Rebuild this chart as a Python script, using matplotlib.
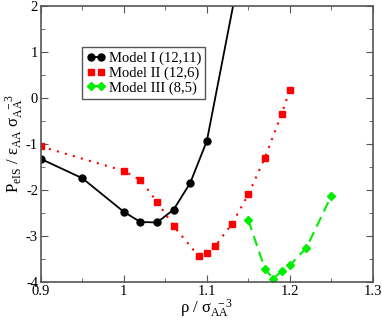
import matplotlib
matplotlib.use('Agg')
from matplotlib import pyplot as plt
from matplotlib.ticker import MultipleLocator

plt.rcParams['font.family'] = ['Liberation Serif', 'DejaVu Sans']
plt.rcParams['mathtext.fontset'] = 'custom'
plt.rcParams['mathtext.rm'] = 'Liberation Serif'
plt.rcParams['mathtext.it'] = 'Liberation Serif:italic'

# Model I (12,11)
x1 = [0.90, 0.95, 1.00, 1.02, 1.04, 1.06, 1.08, 1.10, 1.15]
y1 = [-1.33, -1.75, -2.48, -2.70, -2.71, -2.43, -1.85, -0.94, 3.7]
# Model II (12,6)
x2 = [0.90, 1.00, 1.02, 1.04, 1.06, 1.09, 1.10, 1.11, 1.13, 1.15, 1.17, 1.19, 1.20]
y2 = [-1.06, -1.59, -1.79, -2.26, -2.79, -3.44, -3.38, -3.22, -2.75, -2.10, -1.30, -0.36, 0.17]
# Model III (8,5)
x3 = [1.15, 1.17, 1.18, 1.19, 1.20, 1.22, 1.25]
y3 = [-2.66, -3.72, -3.93, -3.77, -3.64, -3.26, -2.13]

fig = plt.figure(figsize=(3.82, 3.27), dpi=100)
ax = fig.add_axes([0.107, 0.138, 0.869, 0.845])

ax.plot(x1, y1, color='black', lw=1.3, marker='o', ms=5, label='Model I (12,11)')
ax.plot(x2, y2, color='red', lw=1.5, ls=(0, (1, 3)), marker='s', ms=4.3, label='Model II (12,6)')
ax.plot(x3, y3, color='#00ee00', lw=1.5, ls=(0, (5, 3)), marker='D', ms=4.3, label='Model III (8,5)')

ax.set_xlim(0.9, 1.3)
ax.set_ylim(-4, 2)
ax.xaxis.set_minor_locator(MultipleLocator(0.05))
ax.yaxis.set_minor_locator(MultipleLocator(0.5))
ax.set_xticks([0.9, 1.0, 1.1, 1.2, 1.3])
ax.set_xticklabels(['0.9', '1', '1.1', '1.2', '1.3'])
ax.set_yticks([-4, -3, -2, -1, 0, 1, 2])
ax.set_yticklabels(['-4', '-3', '-2', '-1', '0', '1', '2'])
ax.tick_params(which='both', direction='in', top=True, right=True, labelsize=10.5, color='#555555')
ax.tick_params(axis='x', pad=2.5)
ax.tick_params(axis='y', pad=2)
ax.tick_params(which='major', length=5)
ax.tick_params(which='minor', length=3)
for s in ax.spines.values():
    s.set_color('#555555')
    s.set_linewidth(1.2)

ax.set_xlabel('ρ / σ$_{\\mathrm{AA}}^{\\ \\ -3}$', fontsize=12, labelpad=0)
ax.set_ylabel('P$_{\\mathrm{eIS}}$ / ε$_{\\mathrm{AA}}$ σ$_{\\mathrm{AA}}^{\\ \\ -3}$', fontsize=12, labelpad=0)

leg = ax.legend(loc='upper left', bbox_to_anchor=(0.125, 0.85), numpoints=2,
                prop={'family': ['Liberation Serif'], 'size': 10.5}, handlelength=1.3,
                handletextpad=0.2, borderpad=0.3, labelspacing=0.1, fancybox=False,
                edgecolor='#555555', framealpha=1, borderaxespad=0)
leg.get_frame().set_linewidth(1.0)

plt.savefig('out.png', dpi=100)
